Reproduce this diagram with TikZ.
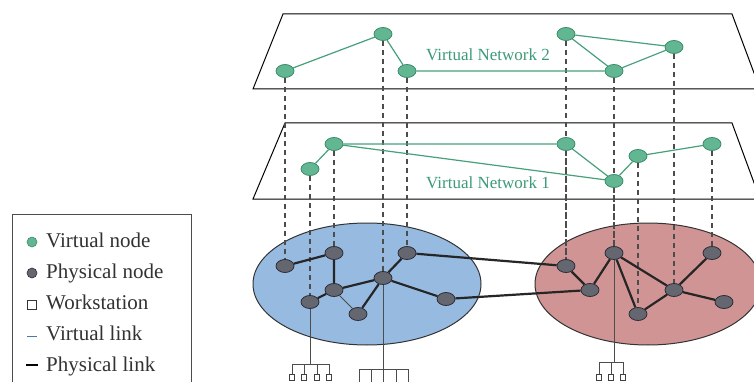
\documentclass[tikz,border=0pt]{standalone}
\usepackage{fontspec}
\setmainfont{Liberation Serif}
\usetikzlibrary{shapes.geometric}
\definecolor{vfill}{RGB}{98,182,146}
\definecolor{vline}{RGB}{70,160,122}
\definecolor{vdraw}{RGB}{60,140,108}
\definecolor{pfill}{RGB}{100,102,112}
\definecolor{pdraw}{RGB}{45,45,55}
\definecolor{bluebg}{RGB}{150,186,224}
\definecolor{redbg}{RGB}{208,148,148}
\definecolor{txt}{RGB}{50,50,50}
\definecolor{vtxt}{RGB}{60,155,118}
\definecolor{legblue}{RGB}{70,120,180}
\pgfdeclarelayer{paper}\pgfdeclarelayer{back}\pgfdeclarelayer{mid}\pgfsetlayers{paper,back,mid,main}
\begin{document}
\begin{tikzpicture}[x=1pt,y=-1pt,
 vnode/.style={ellipse,draw=vdraw,fill=vfill,line width=0.8pt,minimum width=18pt,minimum height=13pt,inner sep=0pt},
 pnode/.style={ellipse,draw=pdraw,fill=pfill,line width=0.8pt,minimum width=18pt,minimum height=13pt,inner sep=0pt},
 vlink/.style={draw=vline,line width=1.2pt},
 plink/.style={draw=black!85,line width=2.2pt},
 wire/.style={draw=black!70,line width=1pt},
 proj/.style={draw=black!70,line width=1.2pt,dash pattern=on 5pt off 4pt},
 plane/.style={draw=black,line width=1pt},
 ws/.style={rectangle,draw=black!75,line width=0.9pt,fill=white,minimum width=5pt,minimum height=6pt,inner sep=0pt},
 lab/.style={font=\fontsize{21}{21}\selectfont,text=txt,anchor=base west,inner sep=0pt},
 vnlab/.style={font=\fontsize{17}{17}\selectfont,text=vtxt,anchor=base west,inner sep=0pt}]
\useasboundingbox (0,0) rectangle (754,382);
\begin{pgfonlayer}{paper}
\fill[white] (0,0) rectangle (754,382);
\end{pgfonlayer}

% planes and domains
\begin{pgfonlayer}{back}
\clip (0,0) rectangle (754,382);
\draw[plane] (283,14) -- (732,14) -- (760,89) -- (253,89) -- cycle;
\draw[plane] (285,123) -- (732,123) -- (760,199) -- (253,199) -- cycle;
\draw[fill=bluebg,draw=black!80,line width=1pt] (367,284) ellipse [x radius=114pt, y radius=61pt];
\draw[fill=redbg,draw=black!80,line width=1pt] (648,284) ellipse [x radius=113pt, y radius=61pt];
\end{pgfonlayer}

% virtual network 2
\node[vnode] (A) at (285,71) {};
\node[vnode] (B) at (383,34) {};
\node[vnode] (C) at (407,71) {};
\node[vnode] (D) at (566,34) {};
\node[vnode] (E) at (614,71) {};
\node[vnode] (F) at (674,47) {};
\node[vnlab] (vn2) at (426,61) {Virtual Network 2};

% virtual network 1
\node[vnode] (G) at (334,144) {};
\node[vnode] (H) at (310,169) {};
\node[vnode] (I) at (566,144) {};
\node[vnode] (J) at (614,181) {};
\node[vnode] (K) at (638,156) {};
\node[vnode] (L) at (712,144) {};
\node[vnlab] (vn1) at (426,188) {Virtual Network 1};

% physical nodes, blue domain
\node[pnode] (P1) at (285,266) {};
\node[pnode] (P2) at (334,253) {};
\node[pnode] (P3) at (334,290) {};
\node[pnode] (P4) at (310,302) {};
\node[pnode] (P5) at (358,314) {};
\node[pnode] (P6) at (383,278) {};
\node[pnode] (P7) at (407,253) {};
\node[pnode] (P8) at (446,299) {};

% physical nodes, red domain
\node[pnode] (R1) at (566,266) {};
\node[pnode] (R2) at (590,290) {};
\node[pnode] (R3) at (614,253) {};
\node[pnode] (R4) at (638,314) {};
\node[pnode] (R5) at (674,290) {};
\node[pnode] (R6) at (712,253) {};
\node[pnode] (R7) at (724,302) {};

% workstations
\coordinate (w1) at (310,364);
\coordinate (w2) at (383,369);
\coordinate (w3) at (614,362);
\foreach \i/\x in {1/292,2/304,3/317,4/329} {\node[ws] (sa\i) at (\x,377) {};}
\foreach \i/\x in {1/359,2/371,3/383,4/396,5/408} {\node[ws] (sb\i) at (\x,386) {};}
\foreach \i/\x in {1/599,2/611,3/623} {\node[ws] (sc\i) at (\x,377) {};}

\begin{pgfonlayer}{mid}
% projections
\draw[proj] (A) -- (P1);
\draw[proj] (B) -- (P6);
\draw[proj] (C) -- (P7);
\draw[proj] (D) -- (R1);
\draw[proj] (E) -- (R3);
\draw[proj] (F) -- (R5);
\draw[proj] (G) -- (P2);
\draw[proj] (H) -- (P4);
\draw[proj] (I) -- (R1);
\draw[proj] (J) -- (R3);
\draw[proj] (K) -- (R4);
\draw[proj] (L) -- (R6);
% virtual links
\draw[vlink] (A) -- (B) -- (C) -- (E) -- (D) -- (F) -- (E);
\draw[vlink] (H) -- (G) -- (I) -- (J) -- (K) -- (L);
\draw[vlink] (G) -- (J);
% physical links
\draw[plink] (P1) -- (P2) -- (P3) -- (P4);
\draw[plink] (P3) -- (P6) -- (P7);
\draw[plink] (P5) -- (P6) -- (P8);
\draw[wire] (P3) -- (P5);
\draw[plink] (R1) -- (R2) -- (R3) -- (R4) -- (R5) -- (R6);
\draw[plink] (R3) -- (R5) -- (R7);
\draw[plink] (P7) -- (R1);
\draw[plink] (P8) -- (R2);
% workstation wiring
\draw[wire] (P4) -- (w1);
\draw[wire] (sa1 |- w1) -- (sa4 |- w1);
\foreach \i in {1,...,4} {\draw[wire] (sa\i |- w1) -- (sa\i);}
\draw[wire] (P6) -- (w2);
\draw[wire] (sb1 |- w2) -- (sb5 |- w2);
\foreach \i in {1,...,5} {\draw[wire] (sb\i |- w2) -- (sb\i);}
\draw[wire] (R3) -- (w3);
\draw[wire] (sc1 |- w3) -- (sc3 |- w3);
\foreach \i in {1,...,3} {\draw[wire] (sc\i |- w3) -- (sc\i);}
\end{pgfonlayer}

% legend
\draw[draw=black!70,line width=1pt] (12,214) rectangle (191,395);
\node[circle,fill=vfill,draw=vdraw,line width=0.6pt,minimum size=10pt,inner sep=0pt] (lg1) at (32,242) {};
\node[circle,fill=pfill,draw=pdraw,line width=0.6pt,minimum size=10pt,inner sep=0pt] (lg2) at (32,273) {};
\node[rectangle,draw=black!80,fill=white,line width=1pt,minimum size=9pt,inner sep=0pt] (lg3) at (32,305) {};
\coordinate (lg4a) at (27,336); \coordinate (lg4b) at (37,336);
\draw[legblue,line width=1pt] (lg4a) -- (lg4b);
\coordinate (lg5a) at (26,365); \coordinate (lg5b) at (38,365);
\draw[black,line width=2.2pt] (lg5a) -- (lg5b);
\node[lab] (t1) at (46,247) {Virtual node};
\node[lab] (t2) at (46,278) {Physical node};
\node[lab] (t3) at (46,309) {Workstation};
\node[lab] (t4) at (46,340) {Virtual link};
\node[lab] (t5) at (46,371) {Physical link};
\end{tikzpicture}
\end{document}
